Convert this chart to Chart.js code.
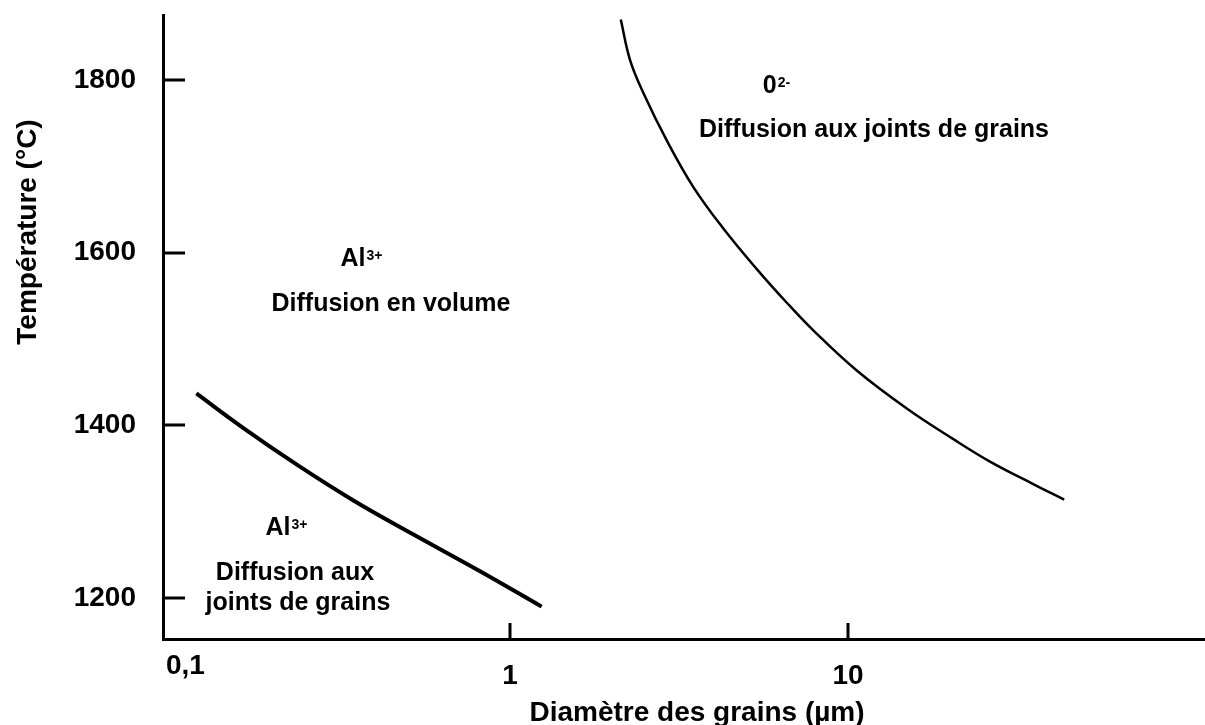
<!DOCTYPE html>
<html lang="fr">
<head>
<meta charset="utf-8">
<title>Diffusion dans l'alumine</title>
<script src="https://cdn.jsdelivr.net/npm/chart.js@4.4.1/dist/chart.umd.min.js"></script>
<style>
  html, body { margin: 0; padding: 0; background: #fff; }
  canvas { display: block; }
</style>
</head>
<body>
<canvas id="chart" width="1205" height="725"></canvas>
<script>
// Al3+ : frontière diffusion en volume / diffusion aux joints de grains
const alDiam = [0.118, 0.161, 0.234, 0.344, 0.518, 0.815, 1.24];
const alTemp = [1437, 1398, 1354.5, 1313, 1273.5, 1231, 1190];

// O2- : frontière de la diffusion aux joints de grains
const oDiam = [2.126, 2.265, 2.48, 2.908, 3.486, 4.276, 5.37, 6.59, 7.89, 10.61, 14.92, 20.49, 26.3, 35.3, 43.6];
const oTemp = [1870, 1823, 1785, 1730, 1676, 1628, 1581, 1542, 1510, 1463.5, 1419.5, 1384, 1358, 1332, 1314];

const xTicks = [0.1, 1, 10];
const xTickLabels = ['0,1', '1', '10'];
const yTicks = [1200, 1400, 1600, 1800];

const FONT = '"Liberation Sans", Arial, Helvetica, sans-serif';

// region names: x = centre, y = baseline (px)
const regionText = [
  { text: 'Al', sup: '3+', x: 361, y: 266 },
  { text: 'Diffusion en volume', x: 391, y: 311 },
  { text: '0', sup: '2-', x: 776, y: 93 },
  { text: 'Diffusion aux joints de grains', x: 874, y: 137 },
  { text: 'Al', sup: '3+', x: 286, y: 535 },
  { text: 'Diffusion aux', x: 295, y: 580 },
  { text: 'joints de grains', x: 298, y: 610 }
];

const toPoints = (xs, ys) => xs.map((x, i) => ({ x, y: ys[i] }));

// inward tick marks, x tick labels, axis titles and region names
const frame = {
  id: 'frame',
  afterDraw(chart) {
    const { ctx, chartArea: a, scales: { x, y } } = chart;
    ctx.save();
    ctx.fillStyle = '#000';

    yTicks.forEach(v => {
      const py = Math.round(y.getPixelForValue(v));
      ctx.fillRect(a.left, py - 1.5, 22, 3);
    });
    // the 0,1 decade sits on the origin, no mark there
    xTicks.slice(1).forEach(v => {
      const px = Math.round(x.getPixelForValue(v));
      ctx.fillRect(px - 1.5, a.bottom - 16, 3, 16);
    });

    ctx.font = 'bold 28px ' + FONT;
    ctx.textBaseline = 'alphabetic';
    ctx.textAlign = 'left';
    xTickLabels.forEach((lbl, i) => {
      const px = x.getPixelForValue(xTicks[i]);
      const w = ctx.measureText(lbl).width;
      let lx = px - w / 2;
      let by = a.bottom + 45;
      if (lx < a.left + 3) { lx = a.left + 3; by -= 10; }
      ctx.fillText(lbl, lx, by);
    });

    ctx.textAlign = 'center';
    ctx.fillText('Diamètre des grains (µm)', 697, 721);

    ctx.save();
    ctx.translate(36, 232);
    ctx.rotate(-Math.PI / 2);
    ctx.fillText('Température (°C)', 0, 0);
    ctx.restore();

    regionText.forEach(t => {
      ctx.font = 'bold 25px ' + FONT;
      const w = ctx.measureText(t.text).width;
      let sw = 0;
      if (t.sup) {
        ctx.font = 'bold 14px ' + FONT;
        sw = ctx.measureText(t.sup).width;
      }
      const left = t.x - (w + sw) / 2;
      ctx.textAlign = 'left';
      ctx.font = 'bold 25px ' + FONT;
      ctx.fillText(t.text, left, t.y);
      if (t.sup) {
        ctx.font = 'bold 14px ' + FONT;
        ctx.fillText(t.sup, left + w + 1, t.y - 6);
      }
    });
    ctx.restore();
  }
};

new Chart(document.getElementById('chart'), {
  type: 'scatter',
  data: {
    datasets: [
      {
        label: 'Al3+',
        data: toPoints(alDiam, alTemp),
        showLine: true,
        borderColor: '#000',
        borderWidth: 4,
        pointRadius: 0,
        tension: 0.4
      },
      {
        label: 'O2-',
        data: toPoints(oDiam, oTemp),
        showLine: true,
        borderColor: '#000',
        borderWidth: 2.5,
        pointRadius: 0,
        tension: 0.4
      }
    ]
  },
  options: {
    responsive: false,
    animation: false,
    devicePixelRatio: 1,
    layout: { padding: { top: 15, left: 0, right: 0, bottom: 0 } },
    plugins: {
      legend: { display: false },
      tooltip: { enabled: false }
    },
    scales: {
      x: {
        type: 'logarithmic',
        min: 0.094,
        max: 113.8,
        grid: { display: false, drawTicks: false },
        border: { display: true, color: '#000', width: 3 },
        ticks: { display: false },
        afterFit: s => { s.height = 86; s.paddingLeft = 0; s.paddingRight = 0; }
      },
      y: {
        min: 1152.5,
        max: 1875.3,
        afterBuildTicks: s => { s.ticks = yTicks.map(value => ({ value })); },
        grid: { display: false, drawTicks: false },
        border: { display: true, color: '#000', width: 3 },
        ticks: {
          color: '#000',
          padding: 27,
          font: { family: FONT, size: 28, weight: 'bold' },
          callback: v => String(v)
        },
        afterFit: s => { s.width = 163; s.paddingTop = 0; s.paddingBottom = 0; }
      }
    }
  },
  plugins: [frame]
});
</script>
</body>
</html>
